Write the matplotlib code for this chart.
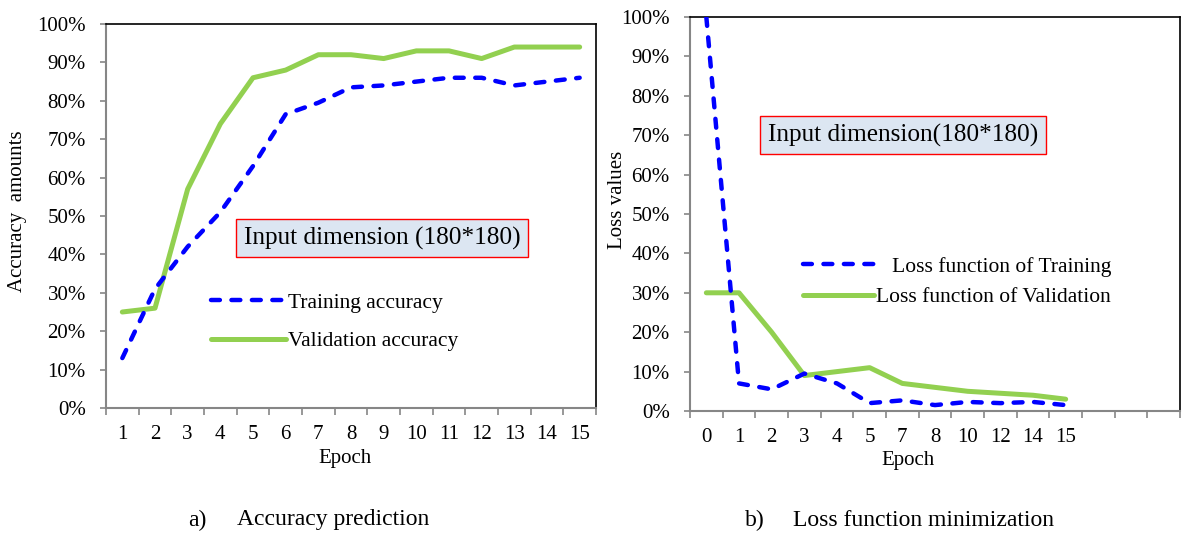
import matplotlib.pyplot as plt
from matplotlib.ticker import FixedLocator, FuncFormatter

plt.rcParams['font.family'] = ['Liberation Serif', 'DejaVu Serif']

# accuracy panel
acc_epochs = ["1", "2", "3", "4", "5", "6", "7", "8", "9", "10", "11", "12", "13", "14", "15"]
train_acc = [13, 31, 42, 51, 63, 76.5, 79.5, 83.5, 84, 85, 86, 86, 84, 85, 86]
val_acc = [25, 26, 57, 74, 86, 88, 92, 92, 91, 93, 93, 91, 94, 94, 94]

# loss panel (last three categories are empty)
loss_epochs = ["0", "1", "2", "3", "4", "5", "7", "8", "10", "12", "14", "15", "", "", ""]
train_loss = [100, 7, 5.5, 9.5, 7, 2, 2.7, 1.5, 2.3, 2, 2.3, 1.5]
val_loss = [30, 30, 20, 9, 10, 11, 7, 6, 5, 4.5, 4, 3]

BLUE = '#0000ff'
GREEN = '#92d050'
W, H = 1182, 533


def px(x, y):
    return x / W, 1 - y / H


def style_axes(ax, cats):
    n = len(cats)
    ax.set_xlim(-0.5, n - 0.5)
    ax.set_ylim(0, 100)
    ax.yaxis.set_major_locator(FixedLocator(range(0, 101, 10)))
    ax.yaxis.set_major_formatter(FuncFormatter(lambda v, p: '%d%%' % v))
    ax.xaxis.set_major_locator(FixedLocator([i - 0.5 for i in range(n + 1)]))
    ax.xaxis.set_major_formatter(plt.NullFormatter())
    ax.xaxis.set_minor_locator(FixedLocator(range(n)))
    ax.set_xticklabels(cats, minor=True)
    ax.tick_params(axis='x', which='major', length=5, width=1.2, color='#868686', direction='out')
    ax.tick_params(axis='x', which='minor', length=0, pad=12, labelsize=15)
    ax.tick_params(axis='y', length=4.5, width=1.2, color='#868686', direction='out', pad=10, labelsize=15)
    for s in ['left', 'bottom']:
        ax.spines[s].set_color('#868686')
        ax.spines[s].set_linewidth(1.5)
    for s in ['top', 'right']:
        ax.spines[s].set_color('black')
        ax.spines[s].set_linewidth(1.2)


def draw(ax, x, train, val, labels):
    ax.plot(x, train, color=BLUE, lw=3.2, ls=(0, (2.0, 2.6)), dash_capstyle='round',
            label=labels[0], zorder=3)
    ax.plot(x, val, color=GREEN, lw=3.6, solid_capstyle='round', label=labels[1], zorder=2)


fig = plt.figure(figsize=(11.82, 5.33), dpi=100)

# a) accuracy
ax1 = fig.add_axes([106 / W, 1 - 408 / H, 490 / W, 384 / H])
style_axes(ax1, acc_epochs)
draw(ax1, range(len(acc_epochs)), train_acc, val_acc, ['Training accuracy', 'Validation accuracy'])
ax1.legend(loc='center left', bbox_to_anchor=px(211, 322), bbox_transform=fig.transFigure,
           frameon=False, fontsize=15.5, handlelength=3.5, handletextpad=0.1,
           labelspacing=0.85, borderpad=0, borderaxespad=0)
fig.text(*px(382, 238), 'Input dimension (180*180)', fontsize=18.2, ha='center', va='center',
         bbox=dict(boxstyle='square,pad=0.3', fc='#dce6f2', ec='red', lw=1))
fig.text(*px(345, 459), 'Epoch', fontsize=15, ha='center', va='center')
fig.text(*px(18, 211), 'Accuracy  amounts', fontsize=15, ha='center', va='center', rotation=90)

# b) loss
ax2 = fig.add_axes([690 / W, 1 - 411 / H, 490 / W, 394 / H])
style_axes(ax2, loss_epochs)
draw(ax2, range(len(train_loss)), train_loss, val_loss,
     ['   Loss function of Training', 'Loss function of Validation'])
ax2.legend(loc='center left', bbox_to_anchor=px(803, 282), bbox_transform=fig.transFigure,
           frameon=False, fontsize=15.5, handlelength=3.3, handletextpad=0.1,
           labelspacing=0.5, borderpad=0, borderaxespad=0)
fig.text(*px(903, 135), 'Input dimension(180*180)', fontsize=18.2, ha='center', va='center',
         bbox=dict(boxstyle='square,pad=0.3', fc='#dce6f2', ec='red', lw=1))
fig.text(*px(908, 461), 'Epoch', fontsize=15, ha='center', va='center')
fig.text(*px(617, 200), 'Loss values', fontsize=15, ha='center', va='center', rotation=90)

# captions
fig.text(*px(188, 520), 'a)', fontsize=17, ha='left', va='center')
fig.text(*px(237, 520), 'Accuracy prediction', fontsize=17, ha='left', va='center')
fig.text(*px(745, 520), 'b)', fontsize=17, ha='left', va='center')
fig.text(*px(793, 520), 'Loss function minimization', fontsize=17, ha='left', va='center')

fig.savefig('out.png', dpi=100)
